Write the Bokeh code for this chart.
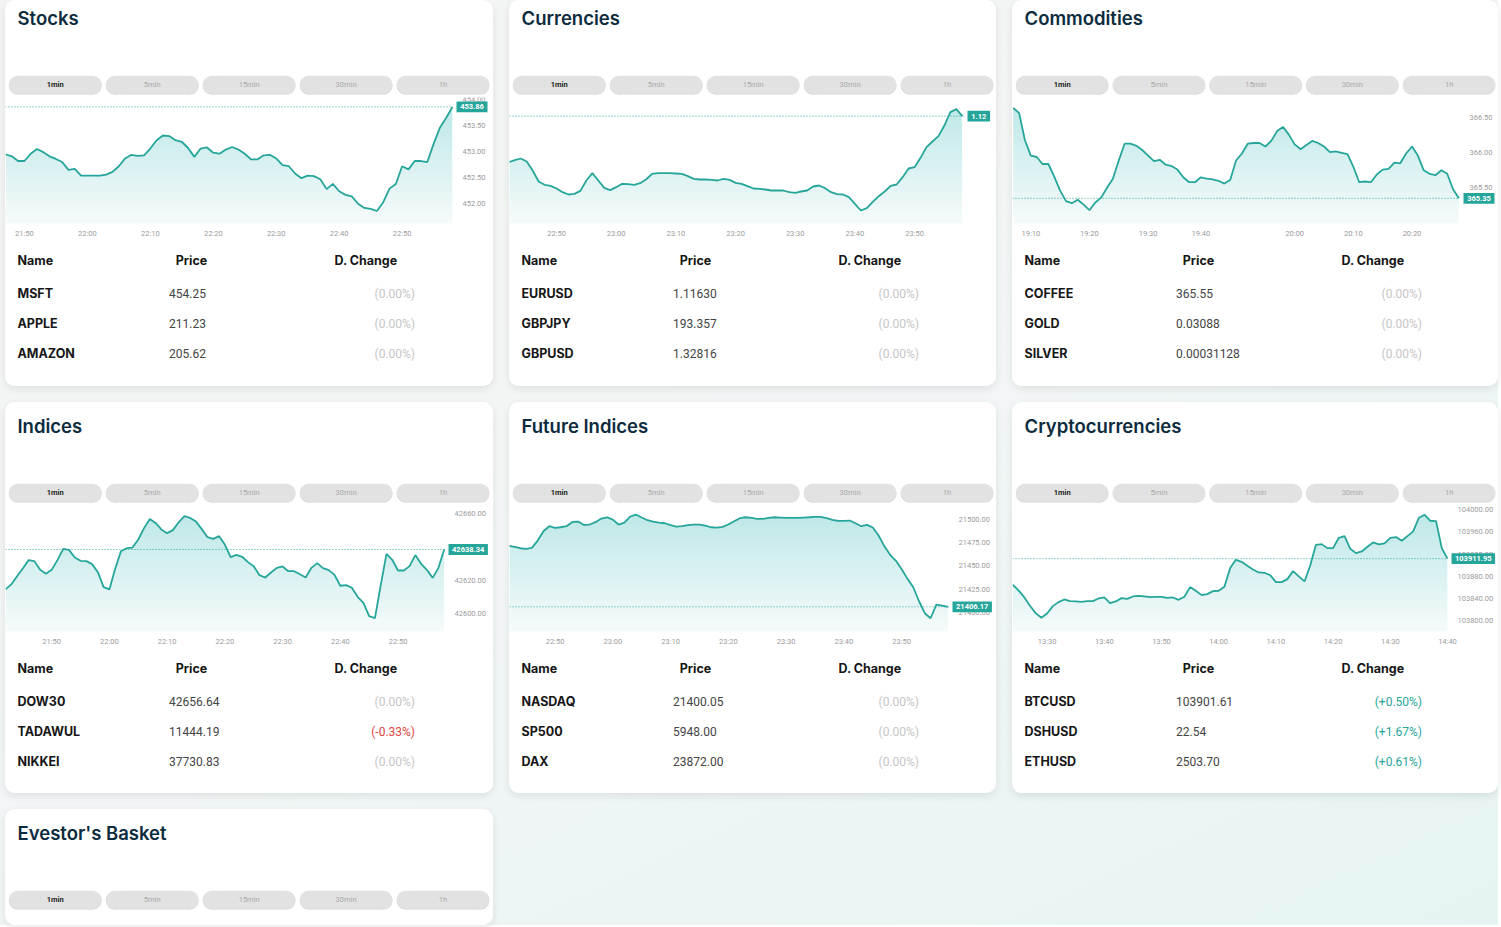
import numpy as np
from bokeh.plotting import figure
from bokeh.models import (Range1d, FixedTicker, NumeralTickFormatter, LinearAxis,
                          ColumnDataSource, Spacer)
from bokeh.layouts import row, column
from bokeh.core.properties import value
from bokeh.embed import file_html
from bokeh.resources import INLINE

# ============================ DATA ============================
button_labels = ["1min", "5min", "15min", "30min", "1h"]
table_headers = ["Name", "Price", "D. Change"]

# ---- Stocks ----
stocks_title = "Stocks"
stocks_prices = [452.95, 452.91, 452.82, 452.82, 452.96, 453.05, 452.99, 452.91, 452.86, 452.80,
                 452.65, 452.67, 452.54, 452.54, 452.54, 452.54, 452.56, 452.61, 452.72, 452.87,
                 452.94, 452.92, 452.93, 453.06, 453.22, 453.31, 453.30, 453.22, 453.19, 453.07,
                 452.90, 453.06, 453.08, 452.98, 452.96, 453.04, 453.09, 453.04, 452.96, 452.85,
                 452.85, 452.93, 452.94, 452.87, 452.74, 452.72, 452.58, 452.49, 452.54, 452.53,
                 452.47, 452.28, 452.38, 452.24, 452.17, 452.14, 452.00, 451.92, 451.90, 451.86,
                 452.03, 452.29, 452.38, 452.72, 452.66, 452.82, 452.82, 452.80, 453.15, 453.46,
                 453.65, 453.86]
stocks_xtick_bars = [3, 13, 23, 33, 43, 53, 63]
stocks_xtick_labels = ["21:50", "22:00", "22:10", "22:20", "22:30", "22:40", "22:50"]
stocks_yticks = [452.0, 452.5, 453.0, 453.5, 454.0]
stocks_names = ["MSFT", "APPLE", "AMAZON"]
stocks_quotes = ["454.25", "211.23", "205.62"]
stocks_changes = [0.0, 0.0, 0.0]

# ---- Currencies ----
curr_title = "Currencies"
curr_prices = [1.11495, 1.11501, 1.11506, 1.11497, 1.11470, 1.11437, 1.11427, 1.11424, 1.11416, 1.11405,
               1.11398, 1.11400, 1.11409, 1.11440, 1.11462, 1.11440, 1.11418, 1.11411, 1.11420, 1.11430,
               1.11429, 1.11427, 1.11432, 1.11443, 1.11460, 1.11462, 1.11462, 1.11462, 1.11461, 1.11460,
               1.11453, 1.11445, 1.11443, 1.11443, 1.11442, 1.11440, 1.11445, 1.11442, 1.11433, 1.11430,
               1.11423, 1.11416, 1.11415, 1.11413, 1.11410, 1.11410, 1.11410, 1.11405, 1.11403, 1.11407,
               1.11410, 1.11422, 1.11425, 1.11417, 1.11405, 1.11399, 1.11398, 1.11390, 1.11370, 1.11350,
               1.11357, 1.11376, 1.11393, 1.11407, 1.11424, 1.11428, 1.11450, 1.11476, 1.11480, 1.11508,
               1.11540, 1.11557, 1.11573, 1.11605, 1.11645, 1.11654, 1.11633]
curr_xtick_bars = [8, 18, 28, 38, 48, 58, 68]
curr_xtick_labels = ["22:50", "23:00", "23:10", "23:20", "23:30", "23:40", "23:50"]
curr_yticks = []
curr_names = ["EURUSD", "GBPJPY", "GBPUSD"]
curr_quotes = ["1.11630", "193.357", "1.32816"]
curr_changes = [0.0, 0.0, 0.0]

# ---- Commodities ----
comm_title = "Commodities"
comm_prices = [366.64, 366.57, 366.18, 365.96, 365.94, 365.84, 365.84, 365.66, 365.46, 365.31,
               365.28, 365.33, 365.26, 365.18, 365.29, 365.36, 365.50, 365.63, 365.89, 366.13,
               366.13, 366.10, 366.04, 365.96, 365.88, 365.90, 365.83, 365.81, 365.76, 365.65,
               365.58, 365.58, 365.65, 365.63, 365.62, 365.60, 365.56, 365.61, 365.89, 365.99,
               366.13, 366.14, 366.14, 366.09, 366.17, 366.31, 366.37, 366.26, 366.12, 366.05,
               366.11, 366.17, 366.14, 366.09, 366.01, 366.02, 366.00, 365.98, 365.80, 365.58,
               365.59, 365.58, 365.69, 365.76, 365.77, 365.86, 365.85, 365.99, 366.09, 365.96,
               365.75, 365.70, 365.68, 365.75, 365.70, 365.48, 365.35]
comm_xtick_bars = [3, 13, 23, 32, 48, 58, 68]
comm_xtick_labels = ["19:10", "19:20", "19:30", "19:40", "20:00", "20:10", "20:20"]
comm_yticks = [365.5, 366.0, 366.5]
comm_names = ["COFFEE", "GOLD", "SILVER"]
comm_quotes = ["365.55", "0.03088", "0.00031128"]
comm_changes = [0.0, 0.0, 0.0]

# ---- Indices ----
ind_title = "Indices"
ind_prices = [42614.5, 42617.5, 42622.4, 42627.0, 42632.0, 42631.4, 42626.2, 42623.8, 42626.2, 42632.0,
              42638.7, 42638.1, 42633.6, 42631.6, 42631.4, 42629.6, 42624.8, 42615.9, 42614.5, 42626.8,
              42637.3, 42639.1, 42639.5, 42644.3, 42651.1, 42656.6, 42654.2, 42650.3, 42648.1, 42649.9,
              42654.6, 42658.2, 42657.2, 42655.0, 42650.5, 42645.7, 42644.7, 42646.3, 42641.3, 42633.8,
              42635.1, 42634.0, 42630.8, 42628.4, 42623.0, 42621.6, 42624.6, 42627.4, 42628.2, 42625.4,
              42625.4, 42623.6, 42621.6, 42627.4, 42630.2, 42627.2, 42626.0, 42623.2, 42616.7, 42617.1,
              42615.5, 42610.1, 42606.5, 42598.6, 42597.4, 42616.9, 42635.7, 42632.2, 42625.8, 42625.8,
              42628.4, 42635.0, 42629.8, 42626.2, 42621.4, 42627.4, 42638.34]
ind_xtick_bars = [8, 18, 28, 38, 48, 58, 68]
ind_xtick_labels = ["21:50", "22:00", "22:10", "22:20", "22:30", "22:40", "22:50"]
ind_yticks = [42600, 42620, 42640, 42660]
ind_names = ["DOW30", "TADAWUL", "NIKKEI"]
ind_quotes = ["42656.64", "11444.19", "37730.83"]
ind_changes = [0.0, -0.33, 0.0]

# ---- Future Indices ----
fut_title = "Future Indices"
fut_prices = [21471.4, 21470.4, 21468.9, 21468.2, 21469.3, 21477.1, 21487.1, 21492.5, 21490.7, 21491.4,
              21492.5, 21497.1, 21497.5, 21493.9, 21494.3, 21496.8, 21500.7, 21502.1, 21499.6, 21494.3,
              21496.4, 21502.9, 21505.0, 21501.8, 21498.9, 21497.5, 21496.4, 21495.7, 21493.6, 21492.1,
              21492.5, 21493.6, 21494.3, 21494.3, 21493.2, 21491.4, 21491.1, 21491.8, 21494.3, 21497.9,
              21501.1, 21502.1, 21501.4, 21500.4, 21500.4, 21501.4, 21502.1, 21501.8, 21501.4, 21501.4,
              21501.4, 21501.8, 21502.1, 21502.5, 21502.5, 21501.1, 21499.3, 21498.2, 21498.2, 21498.6,
              21495.7, 21492.5, 21493.9, 21491.1, 21482.5, 21471.1, 21461.8, 21455.4, 21446.4, 21436.1,
              21427.1, 21412.1, 21399.3, 21393.9, 21408.6, 21407.5, 21406.17]
fut_xtick_bars = [8, 18, 28, 38, 48, 58, 68]
fut_xtick_labels = ["22:50", "23:00", "23:10", "23:20", "23:30", "23:40", "23:50"]
fut_yticks = [21400, 21425, 21450, 21475, 21500]
fut_names = ["NASDAQ", "SP500", "DAX"]
fut_quotes = ["21400.05", "5948.00", "23872.00"]
fut_changes = [0.0, 0.0, 0.0]

# ---- Cryptocurrencies ----
cry_title = "Cryptocurrencies"
cry_prices = [103864.9, 103854.7, 103842.6, 103827.0, 103813.8, 103805.4, 103813.2, 103826.4, 103833.6, 103838.4,
              103835.4, 103834.8, 103834.2, 103835.4, 103835.4, 103840.2, 103842.0, 103831.8, 103834.8, 103840.8,
              103839.6, 103843.8, 103845.0, 103843.8, 103842.6, 103843.2, 103843.2, 103841.4, 103842.0, 103837.8,
              103843.2, 103860.7, 103854.1, 103846.2, 103848.0, 103853.5, 103854.1, 103861.3, 103894.9, 103909.9,
              103906.3, 103899.1, 103892.5, 103887.1, 103886.5, 103882.3, 103869.7, 103869.7, 103875.1, 103889.5,
              103879.9, 103870.9, 103899.7, 103936.9, 103938.1, 103930.9, 103930.9, 103949.5, 103952.6, 103929.7,
              103921.9, 103924.9, 103933.3, 103941.1, 103937.5, 103939.3, 103949.5, 103950.8, 103944.1, 103952.6,
              103961.0, 103985.6, 103991.0, 103980.2, 103979.6, 103930.9, 103911.95]
cry_xtick_bars = [6, 16, 26, 36, 46, 56, 66, 76]
cry_xtick_labels = ["13:30", "13:40", "13:50", "14:00", "14:10", "14:20", "14:30", "14:40"]
cry_yticks = [103800, 103840, 103880, 103920, 103960, 104000]
cry_names = ["BTCUSD", "DSHUSD", "ETHUSD"]
cry_quotes = ["103901.61", "22.54", "2503.70"]
cry_changes = [0.50, 1.67, 0.61]

basket_title = "Evestor's Basket"

# ============================ STYLE ============================
TEAL = "#26a69a"
RED = "#e0433d"
ZERO = "#c6c6c6"
TITLE_COLOR = "#0c2b3e"
AXIS_COLOR = "#9b9b9b"
TITLE_FONT = value("Inter SemiBold, Inter")
CHART_H = 149
FRAME_TOP = 2
FRAME_BOTTOM = 21


def fmt_change(v):
    if v > 0:
        return "(+%.2f%%)" % v
    if v < 0:
        return "(%.2f%%)" % v
    return "(0.00%)"


def change_color(v):
    return TEAL if v > 0 else (RED if v < 0 else ZERO)


def base_fig(W, H, xr, yr, **kw):
    p = figure(width=W, height=H, x_range=xr, y_range=yr, title=None,
               toolbar_location=None, output_backend="svg",
               outline_line_color=None, background_fill_color="white",
               border_fill_color="white", **kw)
    p.grid.visible = False
    return p


def pills(p, lefts, bw, yt, yb, color, dy=0.0):
    r = (yb - yt) / 2
    yc = (yt + yb) / 2 + dy
    p.quad(left=[a + r for a in lefts], right=[a + bw - r for a in lefts],
           top=yt + dy, bottom=yb + dy, fill_color=color, line_color=None)
    p.ellipse(x=[a + r for a in lefts] + [a + bw - r for a in lefts], y=yc,
              width=2 * r, height=2 * r, fill_color=color, line_color=None)


def header_fig(title, L, left, W, H, ytop):
    p = base_fig(W, H, Range1d(left, left + W), Range1d(ytop + H, ytop),
                 x_axis_location=None, y_axis_location=None, min_border=0)
    p.text(x=[L + 12], y=[23.5], text=[title], text_font=TITLE_FONT,
           text_font_size="18.5px", text_color=TITLE_COLOR,
           text_align="left", text_baseline="middle")
    right = min(L + 484.0, left + W - 3.0)
    x0 = L + 3.3
    gap = 4.0
    bw = (right - x0 - 4 * gap) / 5.0
    yt, yb = 81.3, 99.3
    lefts = [x0 + k * (bw + gap) for k in range(5)]
    pills(p, lefts, bw, yt, yb, "#d4d4d4", dy=0.8)
    pills(p, lefts, bw, yt, yb, "#e2e2e2")
    src = ColumnDataSource(dict(x=[a + bw / 2 for a in lefts], y=[(yt + yb) / 2] * 5,
                                t=button_labels,
                                c=["#1e1e1e"] + ["#a9a9a9"] * 4,
                                s=["bold"] + ["normal"] * 4))
    p.text(x="x", y="y", text="t", source=src, text_color="c", text_font_style="s",
           text_font=value("Roboto"), text_font_size="7.5px",
           text_align="center", text_baseline="middle")
    return p


def chart_fig(prices, xr, yr, yticks, xbars, xlabels, W, rb):
    """xr: visible bar range of the price pane; rb: width (px) of the price-scale strip."""
    y = np.asarray(prices, dtype=float)
    x = np.arange(len(y))
    pane_w = W - rb
    kx = (xr[1] - xr[0]) / pane_w                         # bars per pixel
    ky = (yr[1] - yr[0]) / (CHART_H - FRAME_TOP - FRAME_BOTTOM)  # price per pixel
    p = base_fig(W, CHART_H, Range1d(xr[0], xr[1] + rb * kx), Range1d(*yr),
                 y_axis_location=None, min_border_left=0, min_border_right=0,
                 min_border_top=FRAME_TOP, min_border_bottom=FRAME_BOTTOM)
    # vertical gradient under the line (stacked translucent bands)
    p.varea(x=x, y1=yr[0], y2=y, fill_color=TEAL, fill_alpha=0.05)
    for lo in np.linspace(yr[0], yr[1], 21)[1:-1]:
        p.varea(x=x, y1=lo, y2=np.maximum(y, lo), fill_color=TEAL, fill_alpha=0.0125)
    p.line(x, y, line_color=TEAL, line_width=1.8)
    last = y[-1]
    # dotted last-price line across the pane
    p.segment(x0=xr[0], x1=xr[1], y0=last, y1=last, line_color=TEAL,
              line_dash="1 2", line_width=1)
    # price scale drawn by the library at the pane edge
    yax = LinearAxis(fixed_location=xr[1], ticker=FixedTicker(ticks=list(yticks)),
                     formatter=NumeralTickFormatter(format="0.00"))
    p.add_layout(yax, "right")
    # last-price tag on the price scale
    txt = "%.2f" % last
    wpx = 4.2 * sum(ch.isdigit() for ch in txt) + 2.0 * txt.count(".") + 8
    p.quad(left=xr[1] + 4 * kx, right=xr[1] + (4 + wpx) * kx,
           top=last + 5.4 * ky, bottom=last - 5.4 * ky,
           fill_color=TEAL, line_color=None, level="overlay")
    p.text(x=[xr[1] + (4 + wpx / 2) * kx], y=[last], text=[txt], level="overlay",
           text_font=value("Roboto"), text_font_size="7.5px", text_font_style="bold",
           text_color="white", text_align="center", text_baseline="middle")
    p.xaxis.ticker = FixedTicker(ticks=list(xbars))
    p.xaxis.major_label_overrides = {b: s for b, s in zip(xbars, xlabels)}
    for ax in p.axis:
        ax.axis_line_color = None
        ax.major_tick_line_color = None
        ax.minor_tick_line_color = None
        ax.major_tick_out = 0
        ax.major_tick_in = 0
        ax.minor_tick_out = 0
        ax.major_label_text_font = "Roboto"
        ax.major_label_text_font_size = "7.5px"
        ax.major_label_text_color = AXIS_COLOR
    p.xaxis.major_label_standoff = 5
    yax.major_label_standoff = 10
    return p


def table_fig(L, left, W, H, names, quotes, changes):
    p = base_fig(W, H, Range1d(left, left + W), Range1d(H, 0),
                 x_axis_location=None, y_axis_location=None, min_border=0)
    hy = 15.5
    p.text(x=[L + 12], y=[hy], text=[table_headers[0]], text_font=value("Inter"),
           text_font_size="12.5px", text_font_style="bold", text_color="#161616",
           text_align="left", text_baseline="middle")
    p.text(x=[L + 186, L + 360.5], y=[hy, hy], text=table_headers[1:],
           text_font=value("Inter"), text_font_size="12.5px", text_font_style="bold",
           text_color="#161616", text_align="center", text_baseline="middle")
    ys = [49, 79, 109]
    p.text(x=[L + 12] * 3, y=ys, text=names, text_font=value("Inter"),
           text_font_size="12.5px", text_font_style="bold", text_color="#161616",
           text_align="left", text_baseline="middle")
    p.text(x=[L + 163.5] * 3, y=ys, text=quotes, text_font=value("Roboto"),
           text_font_size="12px", text_color="#444444",
           text_align="left", text_baseline="middle")
    src = ColumnDataSource(dict(x=[L + 409.5] * 3, y=ys,
                                t=[fmt_change(v) for v in changes],
                                c=[change_color(v) for v in changes]))
    p.text(x="x", y="y", text="t", source=src, text_color="c",
           text_font=value("Roboto"), text_font_size="12px",
           text_align="right", text_baseline="middle")
    return p


CARD_STYLE = {"background-color": "white", "border-radius": "10px",
              "box-shadow": "0 3px 9px rgba(0,0,0,0.09)", "overflow": "hidden"}


def card(children):
    return column(*children, spacing=0, styles=CARD_STYLE)


# layout geometry: (nominal left, drawn left, width)
G1 = (5, 5, 488)
G2 = (509, 509, 487)
G3 = (1012, 1012, 486)

c_stocks = card([
    header_fig(stocks_title, *G1, 95, 6),
    chart_fig(stocks_prices, (0.0, 71.0), (451.62, 454.04), stocks_yticks,
              stocks_xtick_bars, stocks_xtick_labels, G1[2], 41),
    table_fig(*G1, 142, stocks_names, stocks_quotes, stocks_changes)])
c_curr = card([
    header_fig(curr_title, *G2, 95, 6),
    chart_fig(curr_prices, (0.12, 76.2), (1.11311, 1.11689), curr_yticks,
              curr_xtick_bars, curr_xtick_labels, G2[2], 33),
    table_fig(*G2, 142, curr_names, curr_quotes, curr_changes)])
c_comm = card([
    header_fig(comm_title, *G3, 95, 6),
    chart_fig(comm_prices, (-0.12, 76.1), (364.99, 366.79), comm_yticks,
              comm_xtick_bars, comm_xtick_labels, G3[2], 39),
    table_fig(*G3, 142, comm_names, comm_quotes, comm_changes)])

c_ind = card([
    header_fig(ind_title, *G1, 101, 0),
    chart_fig(ind_prices, (0.0, 76.05), (42589.4, 42664.6), ind_yticks,
              ind_xtick_bars, ind_xtick_labels, G1[2], 49),
    table_fig(*G1, 141, ind_names, ind_quotes, ind_changes)])
c_fut = card([
    header_fig(fut_title, *G2, 101, 0),
    chart_fig(fut_prices, (0.12, 76.1), (21379.7, 21514.7), fut_yticks,
              fut_xtick_bars, fut_xtick_labels, G2[2], 48),
    table_fig(*G2, 141, fut_names, fut_quotes, fut_changes)])
c_cry = card([
    header_fig(cry_title, *G3, 101, 0),
    chart_fig(cry_prices, (-0.05, 76.0), (103780.7, 104007.7), cry_yticks,
              cry_xtick_bars, cry_xtick_labels, G3[2], 51),
    table_fig(*G3, 141, cry_names, cry_quotes, cry_changes)])

c_basket = card([header_fig(basket_title, *G1, 116, 0)])

grid = column(
    row(c_stocks, c_curr, c_comm, spacing=16),
    row(c_ind, c_fut, c_cry, spacing=16),
    row(c_basket, spacing=16),
    spacing=16,
)
page = row(Spacer(width=5, height=10), grid, spacing=0,
           styles={"background": "linear-gradient(155deg, #f4f4f4 0%, #f3f6f6 50%, #e5f4f2 100%)"})

open("out.html", "w").write(file_html(page, INLINE))
